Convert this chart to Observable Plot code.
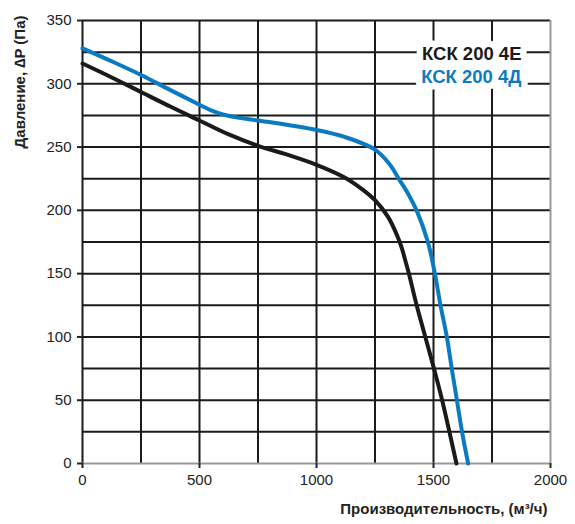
<!DOCTYPE html>
<html>
<head>
<meta charset="utf-8">
<script src="https://cdn.jsdelivr.net/npm/d3@7"></script>
<script src="https://cdn.jsdelivr.net/npm/@observablehq/plot@0.6"></script>
<style>
  body { margin: 0; background: #fff; }
  #chart svg { font-family: "Liberation Sans", Arial, sans-serif; }
</style>
</head>
<body>
<div id="chart"></div>
<script>
// КСК 200 4Е (чёрная кривая)
const flow4E = [0, 125, 250, 375, 500, 625, 750, 875, 1000, 1120, 1200, 1250, 1305, 1345, 1365, 1380, 1395, 1428, 1465, 1502, 1537, 1568, 1598];
const pressure4E = [316, 305, 293.5, 282, 271, 260, 251, 244, 236, 226, 216, 208, 195, 180, 170, 160, 150, 125, 100, 75, 50, 25, 0];

// КСК 200 4Д (синяя кривая)
const flow4D = [0, 134, 250, 376, 500, 550, 604, 675, 750, 1000, 1120, 1250, 1310, 1355, 1395, 1430, 1476, 1506, 1530, 1557, 1578, 1600, 1622, 1648];
const pressure4D = [328, 317, 307, 295, 283.5, 279, 275.5, 273, 271, 263.5, 258, 248, 237, 224, 212, 199, 175, 150, 125, 100, 75, 50, 25, 0];

const seriesNames = ["КСК 200 4Е", "КСК 200 4Д"];
const xTicks = [0, 500, 1000, 1500, 2000];
const yTicks = [0, 50, 100, 150, 200, 250, 300, 350];
const xGrid = [0, 250, 500, 750, 1000, 1250, 1500, 1750];
const yGrid = [25, 50, 75, 100, 125, 150, 175, 200, 225, 250, 275, 300, 325, 350];

const xTitle = "Производительность, (м³/ч)";
const yTitle = "Давление, ∆P (Па)";

const black = "#1a1a1a";
const blue = "#0b7bc1";

const data4E = flow4E.map((x, i) => ({ x, y: pressure4E[i] }));
const data4D = flow4D.map((x, i) => ({ x, y: pressure4D[i] }));

const chart = Plot.plot({
  width: 575,
  height: 524,
  marginLeft: 82,
  marginRight: 25,
  marginTop: 20,
  marginBottom: 61,
  style: { fontFamily: "Liberation Sans, Arial, sans-serif", fontSize: "15px", background: "#fff" },
  x: { domain: [0, 2000] },
  y: { domain: [0, 350] },
  marks: [
    Plot.gridX(xGrid, { stroke: black, strokeOpacity: 1, strokeWidth: 2 }),
    Plot.gridY(yGrid, { stroke: black, strokeOpacity: 1, strokeWidth: 2 }),
    Plot.ruleX([2000], { stroke: "#999", strokeWidth: 2 }),
    Plot.ruleY([0], { stroke: "#999", strokeWidth: 2 }),
    Plot.axisX(xTicks, { tickSize: 5, tickPadding: 6, label: null, tickFormat: d => String(d), fontSize: 15, color: "#222", strokeWidth: 2 }),
    Plot.axisY(yTicks, { tickSize: 5, tickPadding: 6, label: null, tickFormat: d => String(d), fontSize: 15, color: "#222", strokeWidth: 2 }),
    Plot.line(data4D, { x: "x", y: "y", stroke: blue, strokeWidth: 4, curve: "catmull-rom" }),
    Plot.line(data4E, { x: "x", y: "y", stroke: black, strokeWidth: 4, curve: "catmull-rom" }),
    // легенда
    Plot.text([seriesNames[0]], {
      text: d => d, frameAnchor: "top-right", textAnchor: "end", lineAnchor: "top",
      dx: -29, dy: 26, fontSize: 18.5, fontWeight: "bold", fill: black,
      stroke: "white", strokeWidth: 13
    }),
    Plot.text([seriesNames[1]], {
      text: d => d, frameAnchor: "top-right", textAnchor: "end", lineAnchor: "top",
      dx: -29, dy: 49, fontSize: 18.5, fontWeight: "bold", fill: blue,
      stroke: "white", strokeWidth: 13
    }),
    // подписи осей
    Plot.text([xTitle], {
      text: d => d, frameAnchor: "bottom-right", textAnchor: "end", lineAnchor: "bottom",
      dx: -3, dy: 50, fontSize: 15, fontWeight: "bold", fill: "#222"
    }),
    Plot.text([yTitle], {
      text: d => d, frameAnchor: "top-left", textAnchor: "end", lineAnchor: "middle",
      rotate: -90, dx: -62, dy: -5, fontSize: 15, fontWeight: "bold", fill: "#222"
    })
  ]
});

d3.select("#chart").append(() => chart);
</script>
</body>
</html>
